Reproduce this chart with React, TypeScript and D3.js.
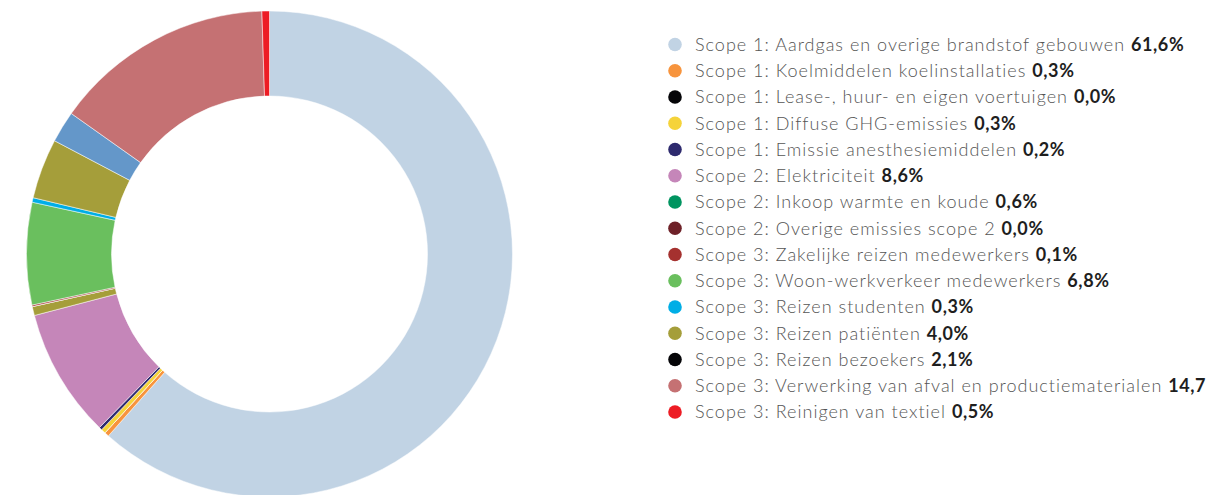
import React from "react";
import * as d3 from "d3";

const labels = [
  "Scope 1: Aardgas en overige brandstof gebouwen",
  "Scope 1: Koelmiddelen koelinstallaties",
  "Scope 1: Lease-, huur- en eigen voertuigen",
  "Scope 1: Diffuse GHG-emissies",
  "Scope 1: Emissie anesthesiemiddelen",
  "Scope 2: Elektriciteit",
  "Scope 2: Inkoop warmte en koude",
  "Scope 2: Overige emissies scope 2",
  "Scope 3: Zakelijke reizen medewerkers",
  "Scope 3: Woon-werkverkeer medewerkers",
  "Scope 3: Reizen studenten",
  "Scope 3: Reizen patiënten",
  "Scope 3: Reizen bezoekers",
  "Scope 3: Verwerking van afval en productiematerialen",
  "Scope 3: Reinigen van textiel",
];
const values = [61.6, 0.3, 0.0, 0.3, 0.2, 8.6, 0.6, 0.0, 0.1, 6.8, 0.3, 4.0, 2.1, 14.7, 0.5];
const legendColors = [
  "#c1d3e4", "#f7943d", "#050508", "#f5d33a", "#2e2a6e", "#c586b9", "#009460", "#6e2128",
  "#a5312f", "#6abf5e", "#00aee6", "#a59e3a", "#050508", "#c57173", "#ed1c24",
];
const sliceColors = [
  "#c1d3e4", "#f7943d", "#050508", "#f5d33a", "#2e2a6e", "#c586b9", "#a59e3a", "#6e2128",
  "#a5312f", "#6abf5e", "#00aee6", "#a59e3a", "#6497c9", "#c57173", "#ed1c24",
];

const fmt = (v: number) => v.toFixed(1).replace(".", ",") + "%";

export default function App() {
  const cx = 269.5;
  const cy = 254;
  const outer = 243;
  const inner = 158;
  const pie = d3.pie<number>().sort(null).value((d) => d);
  const arcs = pie(values);
  const arc = d3.arc<d3.PieArcDatum<number>>().innerRadius(inner).outerRadius(outer);
  const rowY = d3.scaleLinear().domain([0, labels.length - 1]).range([44.5, 412]);

  return (
    <div style={{ position: "absolute", left: 0, top: 0 }}>
      <svg width={1230} height={495} style={{ display: "block", background: "#fff" }}>
        <defs>
          <clipPath id="legendClip">
            <rect x={640} y={0} width={566} height={495} />
          </clipPath>
        </defs>
        <g transform={`translate(${cx},${cy})`}>
          {arcs.map((a, i) => (
            <path key={i} d={arc(a) || ""} fill={sliceColors[i]} stroke="#fff" strokeWidth={0.5} />
          ))}
        </g>
        <g clipPath="url(#legendClip)" style={{ fontFamily: "Lato, 'Open Sans', sans-serif", fontSize: 18 }}>
          {labels.map((l, i) => (
            <g key={i} transform={`translate(0,${rowY(i)})`}>
              <circle cx={675} cy={0} r={6.8} fill={legendColors[i]} />
              <text x={695} y={0} dy="0.36em" fill="#555555" fontWeight={300} letterSpacing={1.0}>
                {l}{" "}
                <tspan fontWeight={700} fill="#1e1e1e" letterSpacing={0.6}>{fmt(values[i])}</tspan>
              </text>
            </g>
          ))}
        </g>
      </svg>
    </div>
  );
}
